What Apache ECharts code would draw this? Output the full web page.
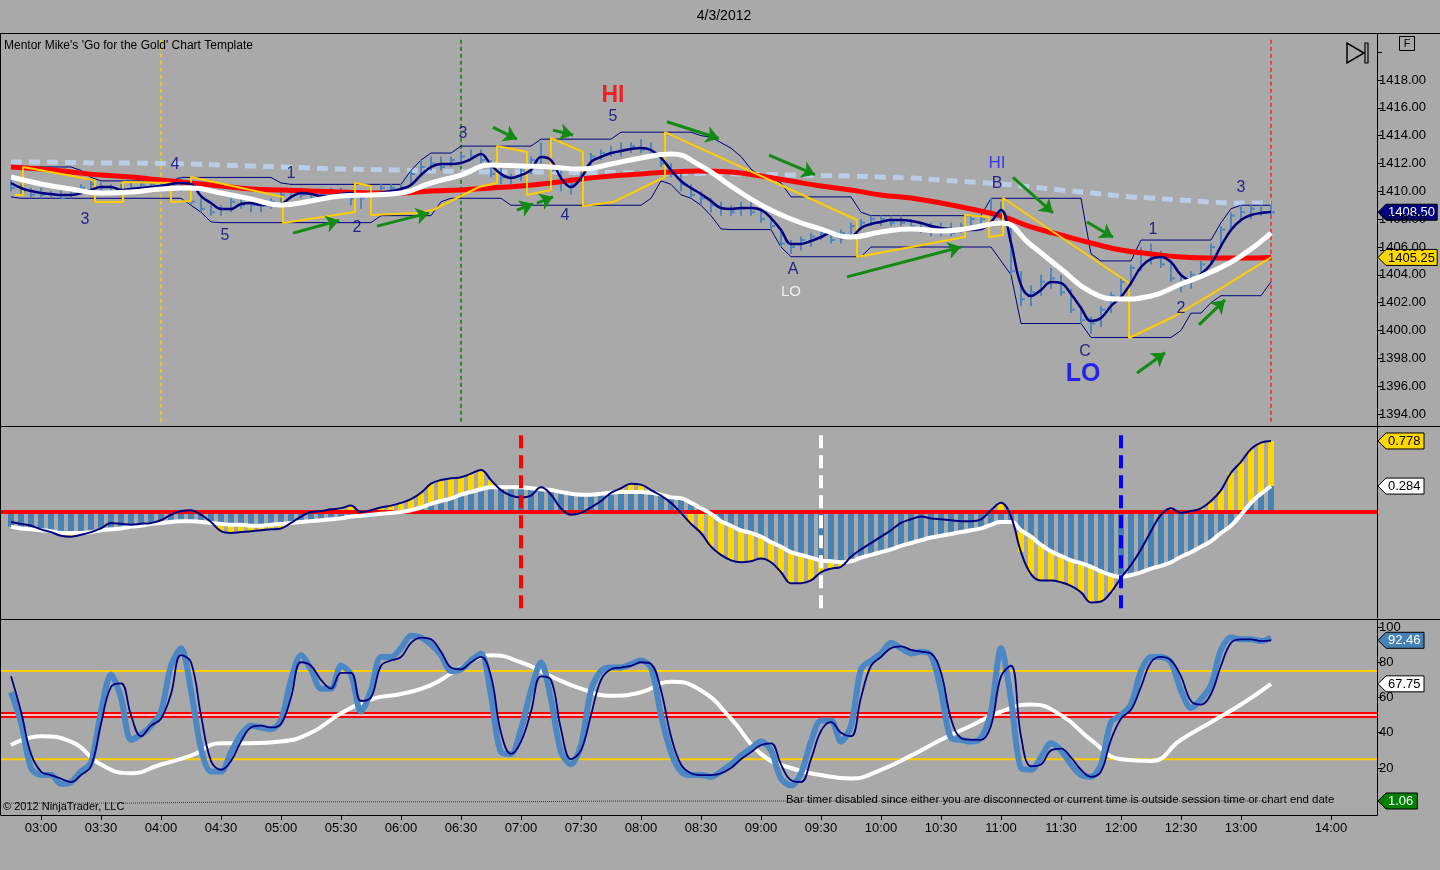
<!DOCTYPE html>
<html><head><meta charset="utf-8">
<script src="https://cdn.jsdelivr.net/npm/echarts@6/dist/echarts.min.js"></script>
<style>html,body{margin:0;padding:0;background:#a9a9a9;}#c{width:1440px;height:870px;}</style>
</head><body><div id="c"></div>
<script>
// ---------------- DATA ----------------
const chartDate = '4/3/2012';
const barStart = '02:45';      // first bar time
const barStepMin = 5;          // minutes between bars
const lineStart = '02:45';     // first point of the slow averages
const lineStepMin = 15;
const greenStart = '02:45';
const greenStepMin = 30;

const barHigh = [1411.0,1410.5,1410.25,1410.25,1410.0,1410.25,1410.25,1410.5,1410.75,1410.75,
1410.5,1410.5,1410.75,1410.75,1410.75,1410.75,1410.75,1411.0,1410.25,1409.5,
1409.0,1409.0,1409.5,1409.5,1409.5,1409.25,1409.5,1410.0,1410.25,1410.25,
1410.0,1410.0,1410.25,1410.25,1410.0,1410.0,1410.25,1410.5,1410.5,1410.5,
1411.5,1412.25,1412.5,1412.5,1412.5,1412.75,1413.0,1413.0,1412.25,1411.75,
1411.25,1411.75,1412.5,1413.5,1412.75,1411.5,1411.0,1411.75,1412.75,1413.0,
1413.25,1413.5,1413.5,1413.75,1413.5,1412.75,1412.0,1411.25,1410.5,1410.0,
1409.5,1409.25,1409.0,1409.25,1409.25,1408.75,1408.25,1407.25,1406.5,1406.75,
1407.0,1407.25,1407.0,1407.25,1407.75,1408.0,1408.25,1408.25,1408.25,1408.25,
1408.0,1407.75,1407.75,1407.75,1407.75,1407.75,1408.25,1408.25,1409.5,1409.25,
1407.5,1404.25,1403.25,1404.0,1404.5,1404.0,1403.0,1401.75,1401.0,1401.75,
1402.75,1403.75,1404.75,1406.0,1406.25,1405.75,1405.0,1404.0,1404.25,1405.0,
1406.25,1407.5,1408.5,1409.0,1409.0,1409.0,1409.0];
const barLow = [1410.0,1409.75,1409.5,1409.5,1409.5,1409.5,1409.5,1409.75,1410.0,1409.75,
1409.75,1409.75,1410.0,1410.0,1410.0,1410.25,1410.25,1410.0,1409.0,1408.5,
1408.25,1408.25,1408.5,1408.75,1408.5,1408.5,1408.75,1409.0,1409.5,1409.5,
1409.25,1409.25,1409.5,1409.5,1409.0,1408.75,1409.5,1409.75,1409.75,1410.0,
1410.5,1411.25,1411.5,1411.5,1411.75,1412.0,1412.25,1412.0,1411.0,1410.5,
1410.5,1410.75,1411.25,1412.0,1411.25,1410.0,1409.75,1410.75,1411.75,1412.25,
1412.5,1412.5,1412.75,1412.75,1412.5,1411.75,1411.0,1410.0,1409.5,1409.0,
1408.5,1408.25,1408.25,1408.25,1408.25,1407.75,1407.25,1406.0,1405.5,1405.75,
1406.0,1406.5,1406.25,1406.25,1406.75,1407.25,1407.5,1407.5,1407.5,1407.5,
1407.25,1407.0,1406.75,1406.75,1406.75,1407.0,1407.25,1407.5,1408.25,1407.5,
1404.0,1401.75,1401.75,1402.5,1403.0,1402.5,1401.25,1400.5,1399.75,1400.25,
1401.25,1402.25,1403.25,1404.25,1404.75,1404.5,1403.5,1402.75,1403.0,1403.75,
1404.75,1406.0,1407.25,1407.75,1408.0,1408.25,1408.25];
const barClose = [1410.25,1410.0,1409.75,1409.75,1409.75,1409.5,1410.0,1410.25,1410.5,1410.0,
1410.0,1410.25,1410.25,1410.5,1410.5,1410.5,1410.5,1410.25,1409.25,1408.75,
1408.5,1408.75,1409.25,1409.0,1409.0,1409.0,1409.25,1409.75,1410.0,1409.75,
1409.5,1409.75,1409.75,1409.75,1409.5,1409.5,1410.0,1410.25,1410.25,1410.25,
1411.25,1411.75,1412.0,1411.75,1412.25,1412.5,1412.5,1412.25,1411.25,1411.0,
1411.0,1411.5,1412.25,1412.5,1411.5,1410.75,1410.5,1411.5,1412.5,1412.75,
1412.75,1413.0,1413.25,1413.0,1412.75,1412.0,1411.25,1410.5,1409.75,1409.5,
1409.0,1408.75,1408.5,1408.75,1408.5,1408.0,1407.5,1406.25,1406.0,1406.5,
1406.75,1407.0,1406.5,1407.0,1407.5,1407.75,1408.0,1408.0,1407.75,1407.75,
1407.5,1407.25,1407.25,1407.25,1407.0,1407.5,1408.0,1408.0,1408.5,1407.75,
1404.25,1402.25,1402.75,1403.5,1403.75,1402.75,1401.5,1400.75,1400.5,1401.5,
1402.5,1403.5,1404.5,1405.5,1405.25,1404.75,1403.75,1403.25,1404.0,1404.75,
1406.0,1407.25,1408.25,1408.5,1408.75,1408.5,1408.5];
const priceFast = [1410.60,1410.24,1410.02,1409.88,1409.81,1409.74,1409.74,1409.88,1410.10,1410.31,
1410.31,1410.10,1410.17,1410.24,1410.31,1410.38,1410.53,1410.60,1410.53,1409.66,
1409.16,1408.73,1408.73,1409.09,1409.16,1409.02,1409.02,1409.09,1409.59,1409.88,
1409.81,1409.66,1409.66,1409.81,1409.88,1409.66,1409.66,1409.88,1410.02,1410.17,
1410.46,1411.17,1411.75,1411.96,1411.96,1412.04,1412.32,1412.68,1411.89,1411.25,
1410.96,1411.17,1411.53,1412.47,1412.25,1410.96,1410.31,1410.96,1412.11,1412.47,
1412.75,1412.90,1413.04,1413.11,1412.97,1412.40,1411.53,1410.74,1410.24,1409.81,
1409.31,1408.80,1408.73,1408.80,1408.80,1408.66,1408.08,1407.22,1406.22,1406.22,
1406.43,1406.72,1407.01,1406.65,1406.72,1407.37,1407.65,1407.80,1407.94,1407.94,
1407.87,1407.72,1407.51,1407.37,1407.29,1407.22,1407.22,1407.29,1407.80,1408.66,
1406.29,1403.27,1402.48,1402.91,1403.49,1403.41,1402.62,1401.62,1400.68,1400.90,
1401.76,1402.41,1403.41,1404.56,1405.14,1405.28,1404.92,1403.99,1403.63,1404.06,
1404.78,1406.07,1407.22,1407.94,1408.30,1408.44,1408.51];
const channelUpper = [1411.75,1411.75,1411.75,1411.75,1411.75,1411.75,1411.75,1411.5,1411.0,1410.75,
1410.75,1410.75,1410.75,1410.75,1410.75,1410.75,1410.75,1411.0,1411.0,1411.0,
1411.0,1411.0,1411.0,1411.0,1411.0,1411.0,1411.0,1410.6,1410.5,1410.5,
1410.5,1410.5,1410.5,1410.5,1410.5,1410.5,1410.5,1410.5,1410.5,1410.5,
1411.5,1412.25,1412.75,1412.75,1412.75,1413.25,1413.25,1413.25,1413.25,1413.25,
1413.25,1413.25,1413.25,1413.75,1413.75,1413.75,1413.75,1413.75,1413.75,1413.75,
1413.75,1414.25,1414.25,1414.25,1414.25,1414.25,1414.25,1414.25,1414.25,1414.0,
1413.9,1413.5,1413.1,1412.5,1411.6,1411.0,1411.0,1410.6,1409.6,1409.6,
1409.6,1409.6,1409.6,1409.6,1409.6,1408.5,1408.25,1408.25,1408.25,1408.25,
1408.25,1408.25,1408.25,1408.25,1408.25,1408.25,1408.25,1408.25,1409.5,1409.5,
1409.5,1409.5,1409.5,1409.5,1409.5,1409.5,1409.5,1409.5,1405.5,1405.0,
1405.0,1405.0,1405.0,1406.5,1406.5,1406.5,1406.5,1406.5,1406.5,1406.5,
1406.5,1407.75,1408.75,1409.0,1409.0,1409.0,1409.0];
const channelLower = [1409.6,1409.5,1409.5,1409.5,1409.5,1409.5,1409.5,1409.5,1409.5,1409.5,
1409.5,1409.5,1409.5,1409.5,1409.5,1409.5,1409.5,1409.5,1409.0,1408.5,
1407.8,1407.75,1407.75,1407.75,1407.75,1407.75,1407.75,1407.75,1407.75,1407.75,
1407.75,1407.75,1407.75,1407.75,1407.75,1407.75,1407.75,1408.25,1408.25,1408.25,
1408.25,1408.25,1408.25,1409.25,1409.5,1409.5,1409.5,1409.5,1409.5,1409.5,
1409.0,1409.0,1409.0,1409.0,1409.0,1409.0,1409.0,1409.0,1409.0,1409.0,
1409.0,1409.0,1409.0,1409.0,1409.5,1410.75,1410.5,1409.75,1409.5,1409.0,
1408.25,1407.3,1407.25,1407.25,1407.25,1407.25,1407.25,1406.0,1405.3,1405.3,
1405.3,1405.3,1405.3,1405.3,1405.3,1405.3,1406.0,1406.0,1406.0,1406.0,
1406.0,1406.0,1406.0,1406.0,1406.0,1406.0,1406.0,1406.0,1406.0,1405.0,
1404.0,1400.5,1400.5,1400.5,1400.5,1400.5,1400.5,1400.5,1399.5,1399.5,
1399.5,1399.5,1399.5,1399.5,1399.5,1399.5,1399.5,1400.0,1401.25,1401.25,
1402.0,1402.5,1402.5,1402.5,1402.5,1402.5,1403.5];
// 15-minute averages on the price panel
const whiteAvg = [1411.03,1410.53,1410.17,1409.88,1409.95,1410.17,1410.24,1409.88,1409.45,1409.02,
1409.31,1409.66,1409.74,1409.88,1410.60,1411.17,1411.89,1411.82,1411.75,1411.60,
1411.96,1412.40,1412.68,1411.82,1410.38,1409.02,1408.01,1407.29,1406.72,1407.08,
1407.29,1407.15,1407.37,1407.72,1406.14,1404.42,1402.77,1402.26,1402.48,1403.34,
1404.20,1405.35,1407.00];
const redAvg = [1411.75,1411.60,1411.39,1411.17,1411.03,1410.81,1410.60,1410.38,1410.17,1410.10,
1410.02,1409.95,1409.88,1409.88,1410.02,1410.10,1410.24,1410.38,1410.60,1410.89,
1411.10,1411.25,1411.39,1411.46,1411.39,1411.10,1410.74,1410.38,1410.10,1409.74,
1409.52,1409.16,1408.73,1408.23,1407.44,1406.86,1406.29,1405.78,1405.50,1405.28,
1405.21,1405.21,1405.25];
const slowAvg = [1412.11,1412.11,1412.07,1412.04,1412.04,1412.00,1411.96,1411.89,1411.82,1411.75,
1411.68,1411.60,1411.57,1411.53,1411.46,1411.42,1411.39,1411.39,1411.39,1411.35,
1411.35,1411.32,1411.32,1411.28,1411.25,1411.21,1411.17,1411.14,1411.10,1411.03,
1410.96,1410.81,1410.67,1410.53,1410.31,1410.10,1409.88,1409.66,1409.52,1409.38,
1409.23,1409.16,1409.16];
// yellow trailing stop (same time twice = a jump)
const stopTimes = ['02:47','02:51','02:51','03:27','03:27','03:41','03:41','04:05','04:05','04:15','04:15',
'05:01','05:01','05:37','05:37','05:45','05:45','06:08','06:16','06:39','06:48','06:48','07:03','07:03',
'07:15','07:15','07:31','07:31','07:46','08:12','08:12','09:48','09:48','09:59','10:42','10:42',
'10:54','10:54','11:01','11:01','12:04','12:04','12:26','12:43','13:15'];
const stopPrices = [1409.74,1409.74,1411.75,1410.8,1409.23,1409.23,1410.67,1410.6,1409.23,1409.3,1411.03,
1409.59,1407.72,1408.51,1410.6,1410.38,1408.3,1408.44,1408.66,1410.31,1410.6,1413.26,1412.83,1409.74,
1410.1,1413.83,1412.83,1408.95,1409.23,1411.03,1414.26,1407.94,1405.28,1405.57,1406.72,1408.3,
1408.16,1406.72,1406.86,1409.52,1403.41,1399.46,1400.97,1402.41,1405.25];
// MACD panel (per bar)
const macdLine = [-0.11,-0.13,-0.15,-0.19,-0.22,-0.26,-0.27,-0.25,-0.22,-0.18,
-0.12,-0.13,-0.14,-0.13,-0.12,-0.09,-0.03,0.01,0.02,-0.03,
-0.11,-0.21,-0.23,-0.22,-0.21,-0.20,-0.19,-0.18,-0.12,-0.05,
0.00,0.01,0.03,0.04,0.07,0.00,0.02,0.05,0.07,0.10,
0.14,0.21,0.31,0.35,0.37,0.38,0.42,0.46,0.35,0.24,
0.18,0.16,0.18,0.27,0.19,0.04,-0.03,-0.01,0.05,0.12,
0.21,0.26,0.31,0.30,0.24,0.18,0.10,-0.01,-0.13,-0.23,
-0.38,-0.47,-0.53,-0.55,-0.54,-0.51,-0.55,-0.66,-0.78,-0.78,
-0.75,-0.66,-0.62,-0.60,-0.49,-0.41,-0.34,-0.27,-0.20,-0.12,
-0.08,-0.05,-0.07,-0.08,-0.09,-0.10,-0.10,-0.08,0.02,0.10,
-0.05,-0.44,-0.68,-0.75,-0.75,-0.77,-0.81,-0.88,-0.99,-0.98,
-0.88,-0.72,-0.58,-0.41,-0.21,-0.03,0.04,-0.01,0.01,0.04,
0.12,0.24,0.43,0.55,0.69,0.76,0.778];
const macdSignal = [-0.16,-0.18,-0.19,-0.20,-0.21,-0.23,-0.23,-0.23,-0.22,-0.20,
-0.19,-0.18,-0.16,-0.15,-0.13,-0.12,-0.11,-0.10,-0.10,-0.11,
-0.12,-0.13,-0.14,-0.14,-0.15,-0.15,-0.14,-0.13,-0.12,-0.11,
-0.10,-0.09,-0.08,-0.07,-0.05,-0.04,-0.03,-0.02,-0.01,0.00,
0.02,0.05,0.09,0.12,0.15,0.19,0.22,0.25,0.27,0.27,
0.27,0.27,0.26,0.25,0.24,0.22,0.20,0.19,0.19,0.20,
0.21,0.22,0.22,0.22,0.21,0.19,0.16,0.15,0.10,0.04,
-0.02,-0.10,-0.15,-0.20,-0.23,-0.27,-0.33,-0.38,-0.44,-0.47,
-0.50,-0.53,-0.54,-0.55,-0.54,-0.50,-0.47,-0.44,-0.41,-0.37,
-0.34,-0.31,-0.28,-0.26,-0.24,-0.22,-0.20,-0.18,-0.14,-0.11,
-0.11,-0.20,-0.27,-0.36,-0.43,-0.48,-0.53,-0.56,-0.60,-0.65,
-0.69,-0.71,-0.69,-0.66,-0.62,-0.59,-0.55,-0.49,-0.44,-0.38,
-0.32,-0.23,-0.15,-0.03,0.10,0.20,0.284];
// Stochastics panel
const stochK = [63,46,20,16,16,11,12,18,23,52,
73,60,36,39,44,52,78,88,64,31,
18,18,29,39,44,43,42,47,70,84,
76,65,65,78,73,52,64,83,83,88,
95,94,90,84,75,76,81,85,61,29,
28,42,64,80,59,29,22,33,64,75,
77,77,79,81,77,50,29,18,16,16,
15,18,22,27,31,35,30,14,10,17,
35,47,47,35,44,76,81,85,91,88,
85,86,84,64,37,36,35,37,52,88,
59,20,19,26,34,30,22,16,15,22,
46,50,56,75,83,83,80,64,54,59,
67,87,94,93,93,92,94];
const stochD = [72,52,28,18,16,14,12,16,21,45,
66,68,50,38,44,48,62,84,80,50,
24,19,24,35,43,44,43,45,60,80,
78,70,65,74,74,58,60,78,81,83,
91,94,93,86,77,76,80,83,72,40,
28,35,52,72,70,42,25,30,50,70,
76,77,78,80,79,64,38,22,17,16,
16,17,20,25,29,33,34,22,13,12,
25,41,46,40,38,60,78,83,88,89,
87,86,85,74,48,37,36,36,44,72,
78,38,21,22,30,31,26,19,15,18,
36,48,53,66,80,83,81,72,58,56,
62,78,91,93,93,92,92.46];
const stochSlow = [33,38,35,22,17,22,27,34,34,35,40,51,59,62,67,77,84,80,72,65,61,63,69,64,48,
28,20,16,14,19,27,36,44,52,56,50,36,25,24,36,46,56,67.75];
const greenVals = [0.9,0.9,0.9,0.95,1.0,1.0,1.0,1.0,1.0,1.02,1.05,1.05,1.06,1.06,1.05,1.05,1.06,1.06,1.06,1.06,1.06,1.06];
const stochLevels = [25, 50, 75];
// time axis tick labels
const timeTicks = ['03:00','03:30','04:00','04:30','05:00','05:30','06:00','06:30','07:00','07:30','08:00','08:30',
'09:00','09:30','10:00','10:30','11:00','11:30','12:00','12:30','13:00','14:00'];
const priceTicks = [1394,1396,1398,1400,1402,1404,1406,1408,1410,1412,1414,1416,1418,1420];
const priceLabels = [1394,1396,1398,1400,1402,1404,1406,1408,1410,1412,1414,1416,1418];
const stochTicks = [20,40,60,80,100];
// marker lines
const priceMarkerTimes = ['04:00','06:30','13:15'];
const macdMarkerTimes = ['07:00','09:30','12:00'];
// annotations
const annoText = ['3','4','5','1','2','3','HI','5','4','A','LO','HI','B','C','LO','1','2','3'];
const annoTime = ['03:22','04:07','04:32','05:05','05:38','06:31','07:46','07:46','07:22','09:16','09:15','10:58','10:58','11:42','11:41','12:16','12:30','13:00'];
const annoPrice = [1408.0,1411.9,1406.8,1411.25,1407.37,1414.12,1416.85,1415.34,1408.23,1404.35,1402.77,1412.04,1410.53,1398.46,1396.87,1407.22,1401.55,1410.24];
const annoKind = ['num','num','num','num','num','num','hiRed','num','num','num','loWhite','hiBlue','num','num','loBlue','num','num','num'];
// green arrows
const arrowFromT = ['05:06','05:48','06:46','07:16','06:58','07:08','08:13','09:04','09:43','11:06','11:43','12:08','12:39'];
const arrowFromP = [1407.0,1407.5,1414.6,1414.4,1408.65,1409.15,1415.0,1412.6,1403.85,1411.0,1407.8,1396.95,1400.4];
const arrowToT = ['05:29','06:14','06:58','07:26','07:06','07:16','08:39','09:27','10:40','11:26','11:56','12:22','12:52'];
const arrowToP = [1407.9,1408.45,1413.75,1414.05,1409.1,1409.6,1413.8,1411.2,1406.0,1408.45,1406.7,1398.4,1402.2];

// ---------------- BUILD ----------------
function toMin(s){const p=s.split(':');return (+p[0])*60+parseFloat(p[1]);}
function hhmm(m){const h=Math.floor(m/60),mm=Math.round(m-h*60);return String(h).padStart(2,'0')+':'+String(mm).padStart(2,'0');}
const t0=toMin(barStart);
const barT=barHigh.map((_,i)=>t0+i*barStepMin);
const lastBar=barT[barT.length-1];
const lt0=toMin(lineStart);
const lineT=whiteAvg.map((_,i)=>lt0+i*lineStepMin);
const gt0=toMin(greenStart);
const greenT=greenVals.map((_,i)=>gt0+i*greenStepMin);
const X_MIN=160, X_MAX=848;
// future time (after the last bar) is drawn compressed, as in the platform
function axisPos(m){return m<=lastBar?m:lastBar+(m-lastBar)*2/3;}
const tickPos=timeTicks.map(s=>axisPos(toMin(s)));
const posLabel={};tickPos.forEach((p,i)=>posLabel[p.toFixed(2)]=timeTicks[i]);
const pair=(ts,vs)=>ts.map((t,i)=>[t,vs[i]]);
const FONT='Liberation Sans';

const chart=echarts.init(document.getElementById('c'),null,{renderer:'canvas'});
const hidX=(g)=>({type:'value',gridIndex:g,min:X_MIN,max:X_MAX,show:false});
const annoStyle={
  num:{color:'#000080',fontSize:16},
  hiRed:{color:'#ff0000',fontSize:23,fontWeight:'bold'},
  loWhite:{color:'#ffffff',fontSize:15},
  hiBlue:{color:'#1c1cff',fontSize:17},
  loBlue:{color:'#0000ff',fontSize:25,fontWeight:'bold'}
};
const series=[];
// ---- price panel ----
series.push({type:'line',xAxisIndex:0,yAxisIndex:0,data:pair(lineT,slowAvg),smooth:true,symbol:'none',z:2,
  lineStyle:{color:'#b9cde6',width:5,type:[11,7]}});
series.push({type:'line',xAxisIndex:0,yAxisIndex:0,data:pair(barT,channelUpper),symbol:'none',z:3,lineStyle:{color:'#000080',width:1}});
series.push({type:'line',xAxisIndex:0,yAxisIndex:0,data:pair(barT,channelLower),symbol:'none',z:3,lineStyle:{color:'#000080',width:1}});
series.push({type:'custom',xAxisIndex:0,yAxisIndex:0,z:4,
  data:barT.map((t,i)=>[t,barHigh[i],barLow[i],barClose[i]]),
  encode:{x:0,y:[1,2,3]},
  renderItem:function(params,api){
    const h=api.coord([api.value(0),api.value(1)]);
    const l=api.coord([api.value(0),api.value(2)]);
    const c=api.coord([api.value(0),api.value(3)]);
    return {type:'group',children:[
      {type:'line',shape:{x1:h[0],y1:h[1],x2:l[0],y2:l[1]},style:{stroke:'#4f86c0',lineWidth:2}},
      {type:'line',shape:{x1:c[0],y1:c[1],x2:c[0]+4,y2:c[1]},style:{stroke:'#4f86c0',lineWidth:2}}
    ]};
  }});
series.push({type:'line',xAxisIndex:0,yAxisIndex:0,data:pair(lineT,redAvg),smooth:true,symbol:'none',z:5,lineStyle:{color:'#ff0000',width:5}});
series.push({type:'line',xAxisIndex:0,yAxisIndex:0,data:stopTimes.map((s,i)=>[toMin(s),stopPrices[i]]),symbol:'none',z:6,lineStyle:{color:'#ffcc00',width:2}});
series.push({type:'line',xAxisIndex:0,yAxisIndex:0,data:pair(barT,priceFast),smooth:0.4,symbol:'none',z:7,lineStyle:{color:'#000080',width:2.5}});
series.push({type:'line',xAxisIndex:0,yAxisIndex:0,data:pair(lineT,whiteAvg),smooth:true,symbol:'none',z:8,lineStyle:{color:'#ffffff',width:5}});
const pmColors=['#ffcc00','#008000','#ff2020'];
priceMarkerTimes.forEach((s,i)=>{
  const t=toMin(s);
  series.push({type:'line',xAxisIndex:0,yAxisIndex:0,data:[[t,1420.9],[t,1393.4]],symbol:'none',z:1,
    lineStyle:{color:pmColors[i],width:1.5,type:[4,3]}});
});
series.push({type:'lines',coordinateSystem:'cartesian2d',xAxisIndex:0,yAxisIndex:0,z:9,
  symbol:['none','arrow'],symbolSize:13,
  lineStyle:{color:'#138a13',width:3,opacity:1,curveness:0},
  data:arrowFromT.map((s,i)=>({coords:[[toMin(s),arrowFromP[i]],[toMin(arrowToT[i]),arrowToP[i]]]}))});
series.push({type:'scatter',xAxisIndex:0,yAxisIndex:0,z:10,symbolSize:0,
  data:annoText.map((tx,i)=>({value:[toMin(annoTime[i]),annoPrice[i]],
    label:Object.assign({show:true,position:'inside',formatter:tx,fontFamily:'Comic Sans MS, '+FONT},annoStyle[annoKind[i]])}))});
// ---- MACD panel ----
series.push({type:'bar',xAxisIndex:1,yAxisIndex:1,data:pair(barT,macdLine),barWidth:6,barGap:'-100%',z:2,itemStyle:{color:'#ffd700'}});
series.push({type:'bar',xAxisIndex:1,yAxisIndex:1,data:pair(barT,macdSignal),barWidth:6,barGap:'-100%',z:3,itemStyle:{color:'#4682b4'}});
series.push({type:'line',xAxisIndex:1,yAxisIndex:1,data:[[X_MIN,0],[X_MAX,0]],symbol:'none',z:4,lineStyle:{color:'#ff0000',width:4}});
series.push({type:'line',xAxisIndex:1,yAxisIndex:1,data:pair(barT,macdSignal),smooth:true,symbol:'none',z:5,lineStyle:{color:'#ffffff',width:4}});
series.push({type:'line',xAxisIndex:1,yAxisIndex:1,data:pair(barT,macdLine),smooth:0.4,symbol:'none',z:6,lineStyle:{color:'#000080',width:2}});
const mmColors=['#ff0000','#ffffff','#0000ff'];
macdMarkerTimes.forEach((s,i)=>{
  const t=toMin(s);
  series.push({type:'line',xAxisIndex:1,yAxisIndex:1,data:[[t,0.84],[t,-1.08]],symbol:'none',z:7,
    lineStyle:{color:mmColors[i],width:4,type:[13,7]}});
});
// ---- Stochastics panel ----
stochLevels.forEach(v=>{
  if(v===50){
    series.push({type:'line',xAxisIndex:2,yAxisIndex:2,data:[[X_MIN,v],[X_MAX,v]],symbol:'none',z:1,lineStyle:{color:'#ff0000',width:6}});
    series.push({type:'line',xAxisIndex:2,yAxisIndex:2,data:[[X_MIN,v],[X_MAX,v]],symbol:'none',z:1,lineStyle:{color:'#ffffff',width:1.5}});
  } else {
    series.push({type:'line',xAxisIndex:2,yAxisIndex:2,data:[[X_MIN,v],[X_MAX,v]],symbol:'none',z:1,lineStyle:{color:'#ffcc00',width:2}});
  }
});
series.push({type:'line',xAxisIndex:2,yAxisIndex:3,data:pair(greenT,greenVals),symbol:'none',z:2,lineStyle:{color:'#006400',width:1,type:[1,1]}});
series.push({type:'line',xAxisIndex:2,yAxisIndex:2,data:pair(lineT,stochSlow),smooth:true,symbol:'none',z:3,lineStyle:{color:'#ffffff',width:4}});
series.push({type:'line',xAxisIndex:2,yAxisIndex:2,data:pair(barT,stochK),smooth:0.3,symbol:'none',z:4,lineStyle:{color:'#4b87c5',width:6}});
series.push({type:'line',xAxisIndex:2,yAxisIndex:2,data:pair(barT,stochD),smooth:0.4,symbol:'none',z:5,lineStyle:{color:'#000080',width:1.8}});

const axisText={color:'#000',fontSize:13,fontFamily:FONT};
const option={
  animation:false,
  backgroundColor:'#a9a9a9',
  grid:[
    {left:1,top:34,width:1376,height:392},
    {left:1,top:427,width:1376,height:191},
    {left:1,top:620,width:1376,height:195}
  ],
  xAxis:[hidX(0),hidX(1),
    {type:'value',gridIndex:2,min:X_MIN,max:X_MAX,position:'bottom',
     axisLine:{show:true,onZero:false,lineStyle:{color:'#000',width:1}},
     axisTick:{show:true,length:5,lineStyle:{color:'#000'},customValues:tickPos},
     axisLabel:Object.assign({margin:7,customValues:tickPos,formatter:v=>posLabel[(+v).toFixed(2)]||hhmm(v)},axisText),
     splitLine:{show:false}}],
  yAxis:[
    {type:'value',gridIndex:0,position:'right',min:1393.138,max:1421.305,
     axisLine:{show:true,lineStyle:{color:'#000'}},
     axisTick:{show:true,length:5,lineStyle:{color:'#000'},customValues:priceTicks},
     axisLabel:Object.assign({margin:2,customValues:priceLabels,formatter:v=>(+v).toFixed(2)},axisText),
     splitLine:{show:false}},
    {type:'value',gridIndex:1,position:'right',min:-1.161,max:0.931,
     axisLine:{show:true,lineStyle:{color:'#000'}},axisTick:{show:false},axisLabel:{show:false},splitLine:{show:false}},
    {type:'value',gridIndex:2,position:'right',min:-6.67,max:103.97,
     axisLine:{show:true,lineStyle:{color:'#000'}},
     axisTick:{show:true,length:5,lineStyle:{color:'#000'},customValues:stochTicks},
     axisLabel:Object.assign({margin:2,customValues:stochTicks,formatter:v=>String(Math.round(v))},axisText),
     splitLine:{show:false}},
    {type:'value',gridIndex:2,position:'right',min:0,max:14.76,show:false}
  ],
  series:series
};
chart.setOption(option);

// ---- frame, texts, value tags ----
function tag(yIdx,val,text,bg,fg){
  const y=chart.convertToPixel({yAxisIndex:yIdx},val);
  const w=5+text.length*6.6;
  return {type:'group',zlevel:1,z:100,children:[
    {type:'polygon',shape:{points:[[1378,y],[1386,y-8],[1386+w,y-8],[1386+w,y+8],[1386,y+8]]},style:{fill:bg,stroke:'#000',lineWidth:1}},
    {type:'text',x:1388,y:y+0.5,style:{text:text,fill:fg,font:'13px '+FONT,verticalAlign:'middle',align:'left'}}
  ]};
}
const L=(x1,y1,x2,y2)=>({type:'line',z:50,shape:{x1,y1,x2,y2},style:{stroke:'#000',lineWidth:1}});
const graphics=[
  L(0,33.5,1440,33.5),L(0,426.5,1440,426.5),L(0,619.5,1440,619.5),L(0.5,33,0.5,815),
  {type:'text',z:50,x:724,y:16,style:{text:chartDate,font:'14px '+FONT,fill:'#000',align:'center',verticalAlign:'middle'}},
  {type:'text',z:50,x:4,y:46,style:{text:"Mentor Mike's 'Go for the Gold' Chart Template",font:'12px '+FONT,fill:'#000',verticalAlign:'middle'}},
  {type:'text',z:50,x:3,y:807,style:{text:'\u00a9 2012 NinjaTrader, LLC',font:'11px '+FONT,fill:'#000',verticalAlign:'middle'}},
  {type:'text',z:50,x:786,y:800,style:{text:'Bar timer disabled since either you are disconnected or current time is outside session time or chart end date',font:'11.4px '+FONT,fill:'#000',verticalAlign:'middle'}},
  {type:'polygon',z:50,shape:{points:[[1347,43],[1347,63],[1364,53]]},style:{fill:'none',stroke:'#000',lineWidth:1.5}},
  {type:'rect',z:50,shape:{x:1365,y:43,width:3,height:20},style:{fill:'none',stroke:'#000',lineWidth:1.2}},
  {type:'rect',z:50,shape:{x:1399.5,y:36.5,width:15,height:14},style:{fill:'none',stroke:'#000',lineWidth:1}},
  {type:'text',z:50,x:1407,y:43.5,style:{text:'F',font:'11px '+FONT,fill:'#000',align:'center',verticalAlign:'middle'}},
  tag(0,barClose[barClose.length-1],barClose[barClose.length-1].toFixed(2),'#000080','#ffffff'),
  tag(0,stopPrices[stopPrices.length-1],stopPrices[stopPrices.length-1].toFixed(2),'#ffd700','#000000'),
  tag(1,macdLine[macdLine.length-1],macdLine[macdLine.length-1].toFixed(3),'#ffd700','#000000'),
  tag(1,macdSignal[macdSignal.length-1],macdSignal[macdSignal.length-1].toFixed(3),'#ffffff','#000000'),
  tag(2,stochD[stochD.length-1],stochD[stochD.length-1].toFixed(2),'#4682b4','#ffffff'),
  tag(2,stochSlow[stochSlow.length-1],stochSlow[stochSlow.length-1].toFixed(2),'#ffffff','#000000'),
  tag(3,greenVals[greenVals.length-1],greenVals[greenVals.length-1].toFixed(2),'#008000','#ffffff')
];
chart.setOption({graphic:graphics});
</script></body></html>
